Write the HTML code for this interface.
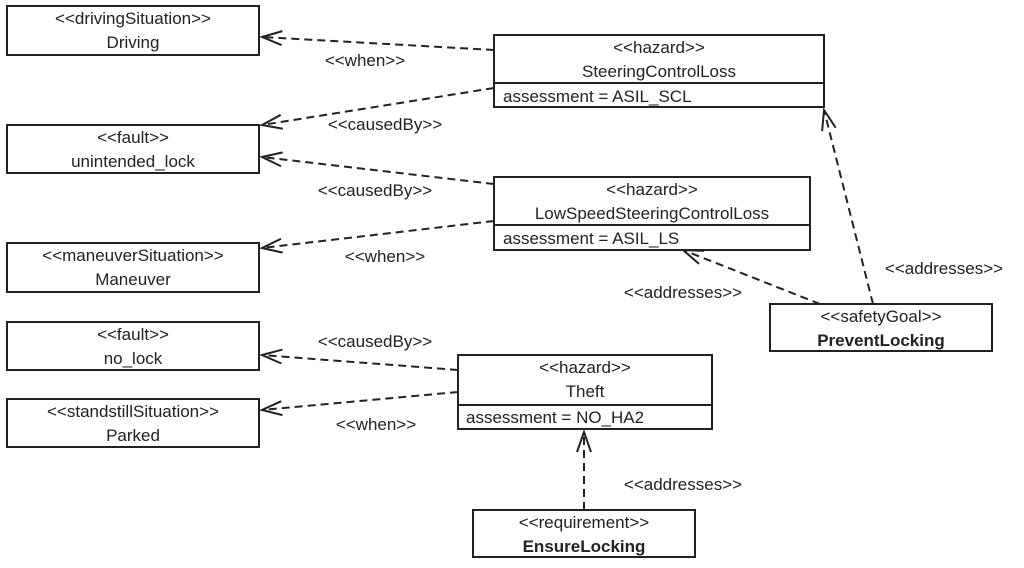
<!DOCTYPE html>
<html><head><meta charset="utf-8"><style>
body{margin:0;background:#fff;}
svg text{font-family:"Liberation Sans",Arial,sans-serif;font-size:17px;fill:#222;}
</style></head><body>
<svg width="1024" height="563" viewBox="0 0 1024 563" xmlns="http://www.w3.org/2000/svg">
<defs><marker id="a" markerWidth="24" markerHeight="16" refX="22" refY="8" orient="auto" markerUnits="userSpaceOnUse"><path d="M2,1 L22,8 L2,15" fill="none" stroke="#222" stroke-width="2"/></marker></defs>
<g fill="#fff" stroke="#222" stroke-width="2">
<rect x="7" y="6" width="252" height="49"/>
<rect x="7" y="125" width="252" height="48"/>
<rect x="7" y="243" width="252" height="49"/>
<rect x="7" y="322" width="252" height="48"/>
<rect x="7" y="399" width="252" height="48"/>
<rect x="494" y="35" width="330" height="72"/><line x1="494" y1="83" x2="824" y2="83"/>
<rect x="494" y="177" width="316" height="73"/><line x1="494" y1="225" x2="810" y2="225"/>
<rect x="458" y="355" width="254" height="74"/><line x1="458" y1="405" x2="712" y2="405"/>
<rect x="770" y="304" width="222" height="47"/>
<rect x="473" y="510" width="222" height="47"/>
</g>
<g stroke="#222" stroke-width="2" stroke-dasharray="8,5" fill="none" marker-end="url(#a)">
<line x1="494" y1="50" x2="262" y2="37"/>
<line x1="494" y1="88" x2="262" y2="125"/>
<line x1="494" y1="184" x2="262" y2="157"/>
<line x1="494" y1="221" x2="262" y2="248"/>
<line x1="458" y1="370" x2="262" y2="355"/>
<line x1="458" y1="392" x2="262" y2="410"/>
<line x1="820" y1="304" x2="683" y2="250"/>
<line x1="873" y1="304" x2="824" y2="110"/>
<line x1="584" y1="510" x2="584" y2="432"/>
</g>
<g text-anchor="middle">
<text x="133" y="24">&lt;&lt;drivingSituation&gt;&gt;</text><text x="133" y="48">Driving</text>
<text x="133" y="143">&lt;&lt;fault&gt;&gt;</text><text x="133" y="167">unintended_lock</text>
<text x="133" y="261">&lt;&lt;maneuverSituation&gt;&gt;</text><text x="133" y="285">Maneuver</text>
<text x="133" y="340">&lt;&lt;fault&gt;&gt;</text><text x="133" y="364">no_lock</text>
<text x="133" y="417">&lt;&lt;standstillSituation&gt;&gt;</text><text x="133" y="441">Parked</text>
<text x="659" y="53">&lt;&lt;hazard&gt;&gt;</text><text x="659" y="77">SteeringControlLoss</text>
<text x="652" y="195">&lt;&lt;hazard&gt;&gt;</text><text x="652" y="219">LowSpeedSteeringControlLoss</text>
<text x="585" y="373">&lt;&lt;hazard&gt;&gt;</text><text x="585" y="397">Theft</text>
<text x="881" y="322">&lt;&lt;safetyGoal&gt;&gt;</text><text x="881" y="346" font-weight="bold">PreventLocking</text>
<text x="584" y="528">&lt;&lt;requirement&gt;&gt;</text><text x="584" y="552" font-weight="bold">EnsureLocking</text>
<text x="365" y="66">&lt;&lt;when&gt;&gt;</text>
<text x="385" y="130">&lt;&lt;causedBy&gt;&gt;</text>
<text x="375" y="196">&lt;&lt;causedBy&gt;&gt;</text>
<text x="385" y="262">&lt;&lt;when&gt;&gt;</text>
<text x="683" y="298">&lt;&lt;addresses&gt;&gt;</text>
<text x="944" y="274">&lt;&lt;addresses&gt;&gt;</text>
<text x="375" y="347">&lt;&lt;causedBy&gt;&gt;</text>
<text x="376" y="430">&lt;&lt;when&gt;&gt;</text>
<text x="683" y="490">&lt;&lt;addresses&gt;&gt;</text>
</g>
<g text-anchor="start">
<text x="503" y="102">assessment = ASIL_SCL</text>
<text x="503" y="244">assessment = ASIL_LS</text>
<text x="466" y="423">assessment = NO_HA2</text>
</g>
</svg>
</body></html>
